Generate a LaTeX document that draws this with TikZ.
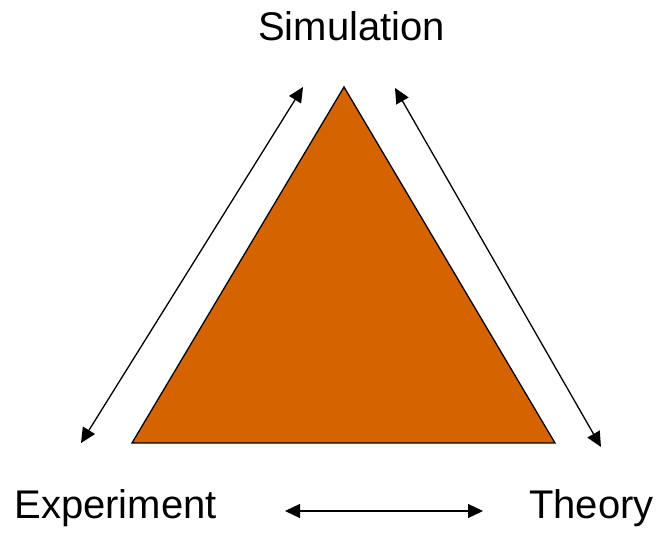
\documentclass[tikz,border=0pt]{standalone}
\usepackage{fontspec}
\setmainfont{Liberation Sans}
\usetikzlibrary{arrows.meta}
\definecolor{trojkat}{RGB}{213,99,0}
\tikzset{
    napis/.style={font=\fontsize{40}{48}\selectfont, anchor=base, inner sep=0pt},
    strzalka/.style={{Triangle[length=15pt,width=14pt]}-{Triangle[length=15pt,width=14pt]}, line width=1.3pt}
}
\begin{document}
\begin{tikzpicture}[x=1pt,y=-1pt]
        \useasboundingbox (0,0) rectangle (662,534);
        % Trojkat
        \coordinate (szczyt) at (344,87);
        \coordinate (lewy) at (132,443);
        \coordinate (prawy) at (555,443);
        \filldraw[fill=trojkat, draw=black, line width=1.3pt, line join=miter] (szczyt) -- (lewy) -- (prawy) -- cycle;
        
        % Napisy
        \node[napis] (sym) at (351.5,41) {Simulation};
        \node[napis] (eksp) at (115.5,519) {Experiment};
        \node[napis] (teoria) at (591.5,519) {Theory};
        
        % Strzalki
        \coordinate (l1) at (303,87);
        \coordinate (l2) at (81,443);
        \coordinate (p1) at (395,88);
        \coordinate (p2) at (601,447);
        \coordinate (d1) at (285,511);
        \coordinate (d2) at (483,511);
        \draw[strzalka] (l1) -- (l2);
        \draw[strzalka] (p1) -- (p2);
        \draw[strzalka] (d1) -- (d2);
    \end{tikzpicture}
\end{document}
